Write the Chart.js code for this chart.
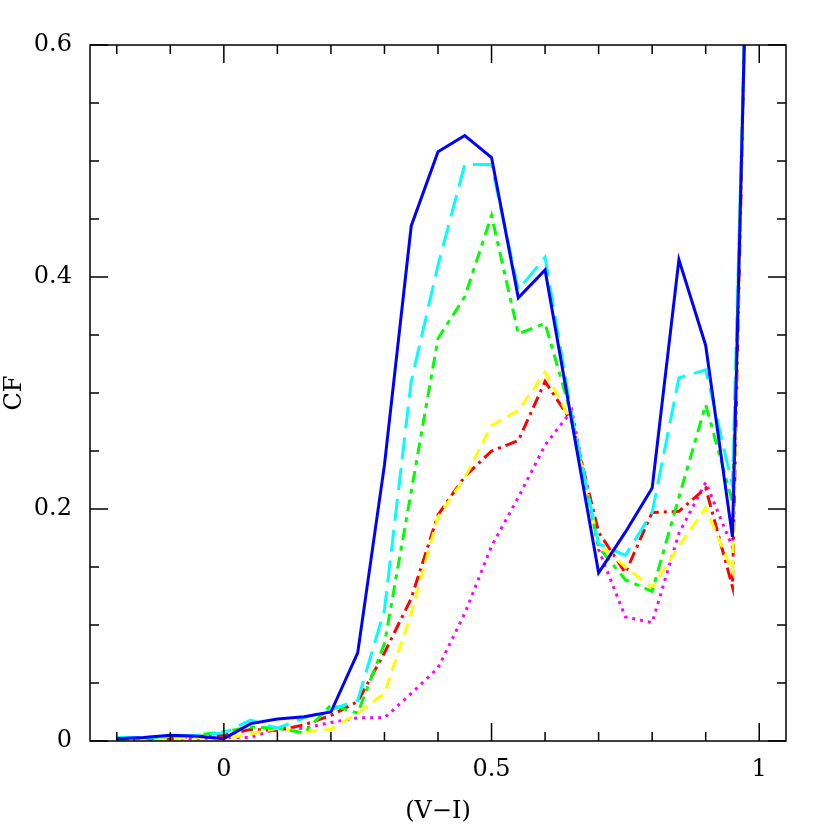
<!DOCTYPE html>
<html>
<head>
<meta charset="utf-8">
<script src="https://cdn.jsdelivr.net/npm/chart.js@4"></script>
<style>
  body { margin: 0; background: #fff; }
</style>
</head>
<body>
<canvas id="myChart" width="830" height="830"></canvas>
<script>
// colour bins (V-I)
var vi = [-0.2, -0.15, -0.1, -0.05, 0, 0.05, 0.1, 0.15, 0.2, 0.25, 0.3, 0.35, 0.4,
          0.45, 0.5, 0.55, 0.6, 0.65, 0.7, 0.75, 0.8, 0.85, 0.9, 0.95, 1.0];

var cfBlue    = [0.002, 0.003, 0.005, 0.004, 0.002, 0.015, 0.019, 0.021, 0.025, 0.076, 0.238, 0.444, 0.508,
                 0.522, 0.503, 0.382, 0.406, 0.275, 0.145, 0.180, 0.218, 0.415, 0.341, 0.176, 1.14];
var cfCyan    = [0.003, 0.003, 0.004, 0.005, 0.007, 0.018, 0.011, 0.020, 0.027, 0.035, 0.113, 0.310, 0.410,
                 0.497, 0.497, 0.389, 0.417, 0.280, 0.170, 0.160, 0.197, 0.313, 0.320, 0.220, 1.085];
var cfGreen   = [0.001, 0.002, 0.004, 0.005, 0.008, 0.012, 0.011, 0.007, 0.031, 0.024, 0.084, 0.215, 0.347,
                 0.383, 0.453, 0.351, 0.360, 0.280, 0.167, 0.139, 0.129, 0.210, 0.290, 0.206, 1.10];
var cfYellow  = [0.001, 0.001, 0.002, 0.003, 0.002, 0.006, 0.011, 0.008, 0.010, 0.024, 0.041, 0.110, 0.193,
                 0.227, 0.272, 0.285, 0.318, 0.275, 0.170, 0.150, 0.132, 0.168, 0.201, 0.146, 1.18];
var cfRed     = [0.001, 0.002, 0.002, 0.004, 0.005, 0.010, 0.009, 0.014, 0.022, 0.034, 0.076, 0.123, 0.195,
                 0.228, 0.250, 0.259, 0.310, 0.275, 0.180, 0.145, 0.197, 0.198, 0.218, 0.133, 1.195];
var cfMagenta = [0.001, 0.001, 0.002, 0.002, 0.003, 0.003, 0.011, 0.011, 0.016, 0.020, 0.020, 0.041, 0.063,
                 0.110, 0.168, 0.210, 0.255, 0.285, 0.165, 0.107, 0.102, 0.179, 0.223, 0.167, 1.15];

// tick positions; labelled (major) ones separately
var xTicks = [-0.2, -0.1, 0, 0.1, 0.2, 0.3, 0.4, 0.5, 0.6, 0.7, 0.8, 0.9, 1.0];
var yTicks = [0, 0.05, 0.1, 0.15, 0.2, 0.25, 0.3, 0.35, 0.4, 0.45, 0.5, 0.55, 0.6];
var xMajor = [0, 0.5, 1];
var yMajor = [0, 0.2, 0.4, 0.6];

function pts(ys) {
  return vi.map(function (x, i) { return { x: x, y: ys[i] }; });
}

function near(a, list) {
  return list.some(function (m) { return Math.abs(a - m) < 1e-6; });
}

var frameTicks = {
  id: 'frameTicks',
  afterDraw: function (chart) {
    var ctx = chart.ctx, a = chart.chartArea;
    var xs = chart.scales.x, ys = chart.scales.y;
    ctx.save();
    ctx.strokeStyle = '#000';
    ctx.lineWidth = 1.5;
    ctx.strokeRect(a.left, a.top, a.right - a.left, a.bottom - a.top);
    ctx.beginPath();
    xs.ticks.forEach(function (t) {
      var len = near(t.value, xMajor) ? 18 : 9;
      var px = xs.getPixelForValue(t.value);
      ctx.moveTo(px, a.bottom); ctx.lineTo(px, a.bottom - len);
      ctx.moveTo(px, a.top); ctx.lineTo(px, a.top + len);
    });
    ys.ticks.forEach(function (t) {
      var len = near(t.value, yMajor) ? 18 : 9;
      var py = ys.getPixelForValue(t.value);
      ctx.moveTo(a.left, py); ctx.lineTo(a.left + len, py);
      ctx.moveTo(a.right, py); ctx.lineTo(a.right - len, py);
    });
    ctx.stroke();
    ctx.restore();
  }
};

var serif = { family: 'DejaVu Serif', size: 24 };

var ctx = document.getElementById('myChart').getContext('2d');
var myChart = new Chart(ctx, {
  type: 'line',
  data: {
    datasets: [
      { data: pts(cfBlue),    borderColor: '#0000ff', borderWidth: 3 },
      { data: pts(cfCyan),    borderColor: '#00ffff', borderWidth: 3, borderDash: [22, 9] },
      { data: pts(cfGreen),   borderColor: '#00ff00', borderWidth: 3, borderDash: [12, 6, 5, 6] },
      { data: pts(cfYellow),  borderColor: '#ffff00', borderWidth: 3, borderDash: [12, 7] },
      { data: pts(cfRed),     borderColor: '#ff0000', borderWidth: 3, borderDash: [12, 5, 3, 5] },
      { data: pts(cfMagenta), borderColor: '#ff00ff', borderWidth: 3, borderDash: [3, 5] }
    ]
  },
  options: {
    responsive: false,
    animation: false,
    elements: { point: { radius: 0 }, line: { tension: 0, fill: false } },
    layout: { padding: { top: 45, right: 44, left: 0, bottom: 0 } },
    plugins: { legend: { display: false }, tooltip: { enabled: false } },
    scales: {
      x: {
        type: 'linear',
        min: -0.25,
        max: 1.05,
        grid: { display: false, drawTicks: false },
        border: { display: false },
        afterBuildTicks: function (s) { s.ticks = xTicks.map(function (v) { return { value: v }; }); },
        ticks: {
          autoSkip: false,
          maxRotation: 0,
          padding: 14,
          color: '#000',
          font: serif,
          callback: function (v) { return near(v, xMajor) ? String(v) : ''; }
        },
        title: { display: true, text: '(V\u2212I)', color: '#000', font: serif, padding: { top: 0 } },
        afterFit: function (s) { s.height = 89; }
      },
      y: {
        min: 0,
        max: 0.6,
        grid: { display: false, drawTicks: false },
        border: { display: false },
        afterBuildTicks: function (s) { s.ticks = yTicks.map(function (v) { return { value: v }; }); },
        ticks: {
          autoSkip: false,
          padding: 18,
          color: '#000',
          font: serif,
          callback: function (v) { return near(v, yMajor) ? String(v) : ''; }
        },
        title: { display: true, text: 'CF', color: '#000', font: serif, padding: 0 },
        afterFit: function (s) { s.width = 90; }
      }
    }
  },
  plugins: [frameTicks]
});
</script>
</body>
</html>
